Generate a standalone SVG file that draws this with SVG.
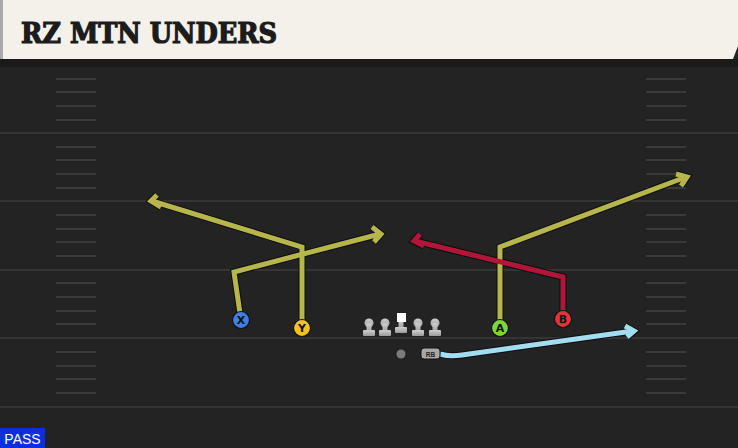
<svg xmlns="http://www.w3.org/2000/svg" width="738" height="448" viewBox="0 0 738 448">
<defs>
<style>
.hash{stroke:#3a3a3a;stroke-width:2}
.out{fill:none;stroke:#0d0d0d;stroke-width:7;stroke-linejoin:miter;stroke-linecap:butt}
.rt{fill:none;stroke-width:5;stroke-linejoin:miter;stroke-linecap:butt}
.yel{stroke:#b6b64c}
.red{stroke:#b0163a}
.blu{stroke:#a3def0}
.lbl{font-family:'DejaVu Sans','Liberation Sans',sans-serif;font-weight:bold;font-size:11px;fill:#111;text-anchor:middle}
.ol{fill:url(#gr)}
</style>
<linearGradient id="gr" x1="0" y1="0" x2="0" y2="1">
<stop offset="0" stop-color="#cfcfcf"/>
<stop offset="1" stop-color="#9a9a9a"/>
</linearGradient>
</defs>
<rect x="0" y="0" width="738" height="448" fill="#232323"/>
<g id="field">
<g stroke="#353535" stroke-width="2">
<line x1="0" y1="65" x2="738" y2="65"/>
<line x1="0" y1="133" x2="738" y2="133"/>
<line x1="0" y1="201" x2="738" y2="201"/>
<line x1="0" y1="270" x2="738" y2="270"/>
<line x1="0" y1="338" x2="738" y2="338"/>
<line x1="0" y1="407" x2="738" y2="407"/>
</g>
<g class="hash">
<path d="M56 79H96M56 92H96M56 106H96M56 120H96M56 147H96M56 160H96M56 174H96M56 188H96M56 215H96M56 229H96M56 242H96M56 256H96M56 283H96M56 297H96M56 311H96M56 324H96M56 352H96M56 366H96M56 379H96M56 393H96"/>
<path d="M646 79H686M646 92H686M646 106H686M646 120H686M646 147H686M646 160H686M646 174H686M646 188H686M646 215H686M646 229H686M646 242H686M646 256H686M646 283H686M646 297H686M646 311H686M646 324H686M646 352H686M646 366H686M646 379H686M646 393H686"/>
</g>
</g>
<g id="header">
<rect x="0" y="59" width="738" height="8" fill="#1a1a1a"/>
<polygon points="0,0 738,0 738,46 733,59 0,59" fill="#f4f1ea"/>
<rect x="0" y="0" width="3" height="59" fill="#a9a9a9"/>
<text x="21" y="43" font-family="'DejaVu Serif Condensed','DejaVu Serif',serif" font-weight="900" font-size="28" fill="#1c1c1c" stroke="#1c1c1c" stroke-width="1.2" textLength="256" lengthAdjust="spacingAndGlyphs">RZ MTN UNDERS</text>
</g>
<g id="connectors">
<g class="out">
<path d="M241 320 L234 272 L380 234"/>
<path d="M372 227 L381 234 L374 242"/>
<path d="M302 328 L302 247 L152 201"/>
<path d="M157 195 L151 201 L161 207"/>
<path d="M500 328 L500 247 L686 177"/>
<path d="M676 174 L687 177 L681 186"/>
<path d="M563 319 L563 277 L415 241"/>
<path d="M420 234 L414 241 L424 246"/>
<path d="M440 354 Q450 357 462 355 L633 331"/>
<path d="M625 326 L634 331 L627 337"/>
</g>
<g class="rt">
<path class="yel" d="M241 320 L234 272 L380 234"/>
<path class="yel" d="M372 227 L381 234 L374 242"/>
<path class="yel" d="M302 328 L302 247 L152 201"/>
<path class="yel" d="M157 195 L151 201 L161 207"/>
<path class="yel" d="M500 328 L500 247 L686 177"/>
<path class="yel" d="M676 174 L687 177 L681 186"/>
<path class="red" d="M563 319 L563 277 L415 241"/>
<path class="red" d="M420 234 L414 241 L424 246"/>
<path class="blu" d="M440 354 Q450 357 462 355 L633 331"/>
<path class="blu" d="M625 326 L634 331 L627 337"/>
</g>
</g>
<g id="ol">
<g class="ol">
<circle cx="369" cy="323" r="4.5"/><rect x="366.5" y="323" width="5" height="10"/><rect x="363" y="330" width="12" height="6" rx="1"/>
<circle cx="385" cy="323" r="4.5"/><rect x="382.5" y="323" width="5" height="10"/><rect x="379" y="330" width="12" height="6" rx="1"/>
<circle cx="418" cy="323" r="4.5"/><rect x="415.5" y="323" width="5" height="10"/><rect x="412" y="330" width="12" height="6" rx="1"/>
<circle cx="435" cy="323" r="4.5"/><rect x="432.5" y="323" width="5" height="10"/><rect x="429" y="330" width="12" height="6" rx="1"/>
<rect x="398.5" y="320" width="5" height="10"/><rect x="395" y="327" width="12" height="6" rx="1"/>
</g>
<rect id="c" x="397" y="313" width="9" height="9" fill="#ffffff"/>
</g>
<g id="qb"><circle cx="401" cy="354" r="4.5" fill="#7a7a7a"/></g>
<g id="rb">
<rect x="421" y="348" width="19" height="11" rx="3" fill="#a8a8a8" stroke="#111" stroke-width="1"/>
<text x="430.5" y="356.5" font-family="'Liberation Sans',Arial,sans-serif" font-weight="bold" font-size="6.5" fill="#222" text-anchor="middle">RB</text>
</g>
<g id="x">
<circle cx="241" cy="320" r="8.5" fill="#3f7fe3" stroke="#111" stroke-width="1.2"/>
<text class="lbl" x="241" y="324">X</text>
</g>
<g id="y">
<circle cx="302" cy="328" r="8.5" fill="#f3c21c" stroke="#111" stroke-width="1.2"/>
<text class="lbl" x="302" y="332">Y</text>
</g>
<g id="a">
<circle cx="500" cy="328" r="8.5" fill="#7fd43a" stroke="#111" stroke-width="1.2"/>
<text class="lbl" x="500" y="332">A</text>
</g>
<g id="b">
<circle cx="563" cy="319" r="8.5" fill="#e3333b" stroke="#111" stroke-width="1.2"/>
<text class="lbl" x="563" y="323">B</text>
</g>
<g id="pass">
<rect x="0" y="428" width="45" height="20" fill="#0a2fe0"/>
<text x="22.5" y="444" font-family="'Liberation Sans',Arial,sans-serif" font-size="14" fill="#ffffff" text-anchor="middle">PASS</text>
</g>
</svg>
